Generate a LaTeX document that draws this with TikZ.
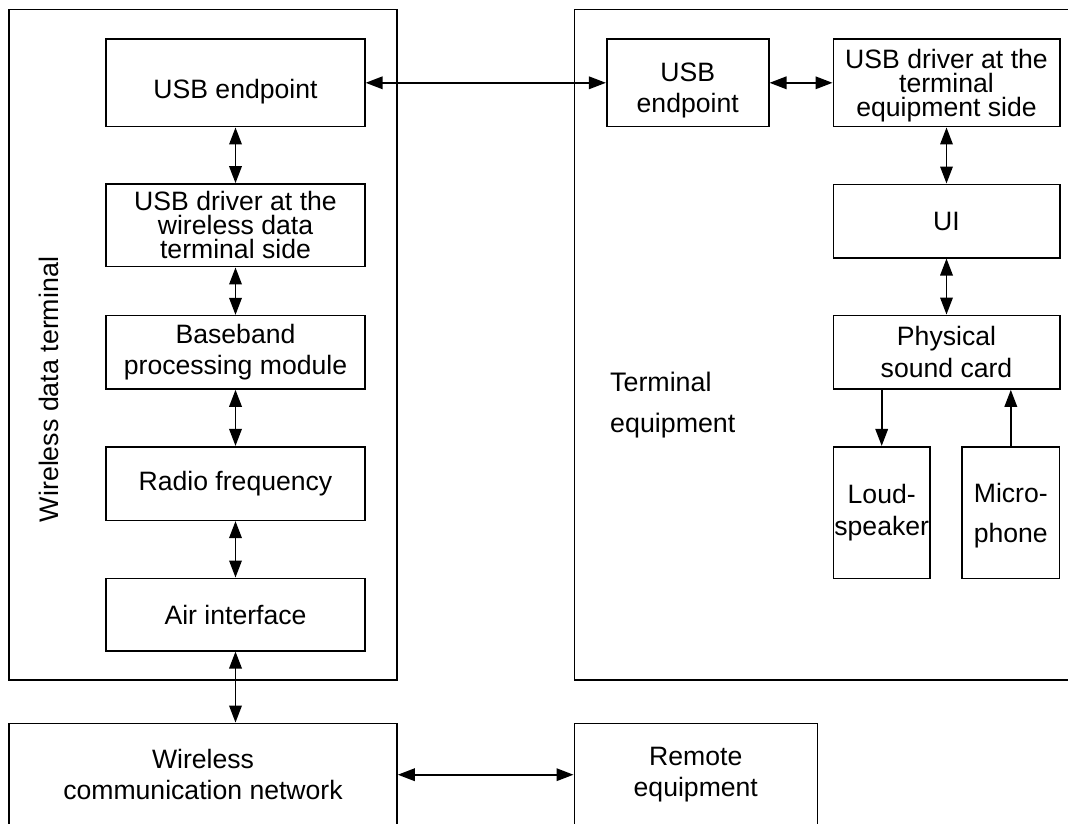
\documentclass[tikz,border=0pt]{standalone}
\usepackage{fontspec}
\setmainfont{Liberation Sans}
\usetikzlibrary{arrows.meta}
\tikzset{
  box/.style={draw, line width=1.6pt, inner sep=0pt, align=center, font=\fontsize{26.6}{31.5}\selectfont},
  tightbox/.style={box, font=\fontsize{26.6}{24}\selectfont},
  txt/.style={inner sep=0pt, align=center, font=\fontsize{26.6}{31.6}\selectfont},
  frame/.style={draw, line width=1.6pt},
  tip/.tip={Triangle[length=17pt,width=12.5pt]},
  biarr/.style={line width=1.8pt, tip-tip},
  onearr/.style={line width=1.8pt, -tip},
  lbl/.style={inner sep=0pt, font=\fontsize{26.8}{41}\selectfont}
}
\begin{document}
\begin{tikzpicture}[x=1pt,y=-1pt]
\useasboundingbox (0,0) rectangle (1068,823);
\fill[white] (0,0) rectangle (1068,823);
\clip (0,0) rectangle (1068,823);
% outer frames
\draw[frame] (9,9.5) rectangle (397,680);
\draw[frame] (574.3,9.5) rectangle (1080,680);
\node[lbl, rotate=90, anchor=base] (wdt) at (58,389.5) {Wireless data terminal};
\node[lbl, align=left, anchor=west] (te) at (610,405) {Terminal\\equipment};
% left column
\node[box, minimum width=258.6pt, minimum height=87.7pt] (lusb) at (235.5,82.8) {};
\node[txt] (lusbt) at (235.5,91.4) {USB endpoint};
\node[tightbox, minimum width=258.6pt, minimum height=82.7pt] (ldrv) at (235.5,225.3) {USB driver at the\\wireless data\\terminal side};
\node[box, minimum width=258.6pt, minimum height=73.3pt] (base) at (235.5,352.3) {Baseband\\processing module};
\node[box, minimum width=258.6pt, minimum height=73.6pt] (radio) at (235.5,483.5) {Radio frequency};
\node[box, minimum width=258.6pt, minimum height=72.4pt] (air) at (235.5,614.5) {Air interface};
% right column
\node[box, minimum width=162pt, minimum height=87.7pt] (rusb) at (687.7,82.8) {};
\node[txt] (rusbt) at (687.7,90.6) {USB\\endpoint};
\node[tightbox, text depth=0pt, minimum width=226.4pt, minimum height=87.7pt] (rdrv) at (946.5,82.8) {USB driver at the\\terminal\\equipment side};
\node[box, minimum width=226.4pt, minimum height=73.4pt] (ui) at (946.5,221) {UI};
\node[box, minimum width=226.4pt, minimum height=73.7pt] (snd) at (946.5,352.2) {Physical\\sound card};
\node[box, font=\fontsize{26.6}{32}\selectfont, minimum width=96.7pt, minimum height=131.6pt] (loud) at (881.7,512.5) {Loud-\\speaker};
\node[box, font=\fontsize{26.6}{40}\selectfont, text depth=0pt, minimum width=97.7pt, minimum height=131.6pt] (mic) at (1010.8,512.5) {Micro-\\phone};
% bottom
\node[box, minimum width=388pt, minimum height=102.7pt] (wcn) at (203,774.7) {Wireless\\communication network};
\node[box, minimum width=243pt, minimum height=102.7pt] (rem) at (695.8,774.7) {Remote\\equipment};
% connectors
\draw[biarr] (lusb.east) -- (rusb.west);
\draw[biarr] (rusb.east) -- (rdrv.west);
\draw[biarr] (lusb.south) -- (ldrv.north);
\draw[biarr] (ldrv.south) -- (base.north);
\draw[biarr] (base.south) -- (radio.north);
\draw[biarr] (radio.south) -- (air.north);
\draw[biarr] (air.south) -- (air.south |- wcn.north);
\draw[biarr] (wcn.east) -- (rem.west);
\draw[biarr] (rdrv.south) -- (ui.north);
\draw[biarr] (ui.south) -- (snd.north);
\draw[onearr] (loud.north |- snd.south) -- (loud.north);
\draw[onearr] (mic.north) -- (mic.north |- snd.south);
\end{tikzpicture}
\end{document}
